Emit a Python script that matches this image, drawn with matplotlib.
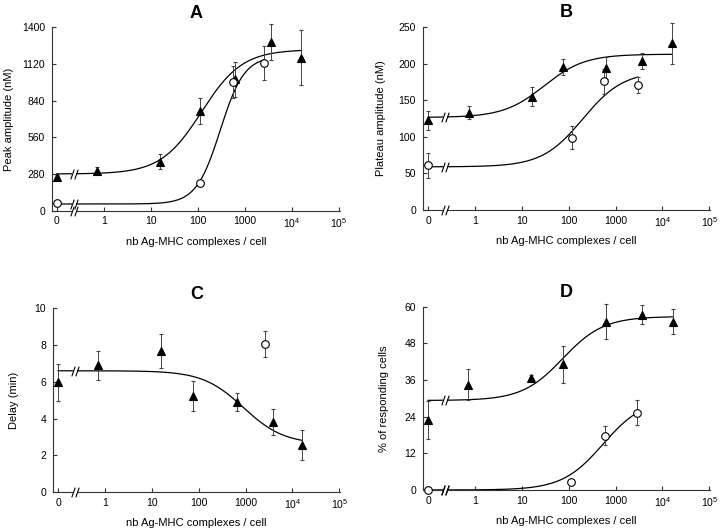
import numpy as np
import matplotlib.pyplot as plt
from matplotlib.path import Path

plt.rcParams['font.family'] = ['Liberation Sans', 'DejaVu Sans']
plt.rcParams['mathtext.fontset'] = 'custom'
plt.rcParams['mathtext.rm'] = 'Liberation Sans'

# where "0" sits on the log axis, and the two slashes of the axis break
ZERO = 0.1
BREAK = [0.21, 0.25]

x_ticks = [ZERO, 1, 10, 100, 1000, 1e4, 1e5]
x_ticklabels = ['0', '1', '10', '100', '1000', r'$10^4$', r'$10^5$']
x_label = 'nb Ag-MHC complexes / cell'

# Panel A - peak amplitude
a_tri_x = [0, 0.72, 16, 110, 630, 3650, 16000]
a_tri_y = [255, 305, 374, 761, 1003, 1288, 1168]
a_tri_err = [20, 28, 58, 102, 132, 137, 210]
a_circ_x = [0, 110, 560, 2500]
a_circ_y = [61, 214, 985, 1125]
a_circ_err = [0, 0, 123, 131]
a_fit_tri = [280, 1230, 120, 1.0]     # start, end, ec50, hill
a_fit_circ = [51, 1180, 300, 1.7]
a_yticks = [0, 280, 560, 840, 1120, 1400]

# Panel B - plateau amplitude
b_tri_x = [0, 0.74, 16.6, 77, 640, 3600, 16000]
b_tri_y = [123, 133, 155, 195, 194, 204, 228]
b_tri_err = [13, 9, 13, 11, 15, 11, 28]
b_circ_x = [0, 115, 575, 2960]
b_circ_y = [61, 99, 176, 171]
b_circ_err = [17, 16, 17, 11]
b_fit_tri = [126.5, 213, 30, 1.0]
b_fit_circ = [59, 190, 200, 1.0]
b_yticks = [0, 50, 100, 150, 200, 250]

# Panel C - delay
c_tri_x = [0, 0.72, 16, 76, 660, 3800, 16000]
c_tri_y = [5.97, 6.9, 7.68, 5.22, 4.91, 3.82, 2.55]
c_tri_err = [1.0, 0.8, 0.91, 0.81, 0.5, 0.71, 0.83]
c_circ_x = [2600]
c_circ_y = [8.05]
c_circ_err = [0.7]
c_fit_tri = [6.6, 2.6, 900, 1.0]
c_yticks = [0, 2, 4, 6, 8, 10]

# Panel D - % responding cells
d_tri_x = [0, 0.70, 16, 75, 630, 3650, 16500]
d_tri_y = [22.9, 34.4, 36.8, 41.1, 55.1, 57.3, 55.1]
d_tri_err = [6.1, 5.1, 0.9, 6.0, 5.8, 3.1, 4.1]
d_circ_x = [0, 112, 600, 2900]
d_circ_y = [0, 2.5, 17.7, 25.3]
d_circ_err = [0, 0, 3.1, 4.0]
d_fit_tri = [29.3, 56.8, 75, 1.0]
d_fit_circ = [0, 30, 540, 1.0]
d_yticks = [0, 12, 24, 36, 48, 60]

slash = Path([(-0.35, -1), (0.35, 1)], [Path.MOVETO, Path.LINETO])


def to_log(x):
    x = np.asarray(x, dtype=float)
    return np.where(x == 0, ZERO, x)


def hill(x, start, end, ec50, n):
    r = (x / ec50) ** n
    return start + (end - start) * r / (1 + r)


def draw_break(ax, y, axis=False):
    tr = ax.get_xaxis_transform() if axis else ax.transData
    ax.plot(BREAK, [y, y], color='white', lw=3, solid_capstyle='butt',
            transform=tr, clip_on=False, zorder=5)
    ax.plot(BREAK, [y, y], ls='none', marker=slash, ms=7, mec='black',
            mew=0.8, transform=tr, clip_on=False, zorder=6)


def panel(ax, letter, ylabel, label_x, yticks, tri, circ, fits):
    for (xs, ys, es), style in ((tri, dict(marker='^', mfc='black')),
                                (circ, dict(marker='o', mfc='white'))):
        if not xs:
            continue
        ax.errorbar(to_log(xs), ys, yerr=es, ls='none', mec='black', ms=5.5,
                    mew=0.8, ecolor='#444444', elinewidth=0.7, capsize=1.5,
                    clip_on=False, zorder=4, **style)
    for xmax, params in fits:
        xx = np.logspace(np.log10(ZERO), np.log10(xmax), 300)
        ax.plot(xx, hill(xx, *params), color='black', lw=0.9, zorder=3)
        draw_break(ax, params[0])
    draw_break(ax, 0, axis=True)

    ax.set_xscale('log')
    ax.set_xlim(0.078, 1.05e5)
    ax.set_xticks(x_ticks)
    ax.set_xticklabels(x_ticklabels)
    ax.minorticks_off()
    ax.set_ylim(yticks[0], yticks[-1])
    ax.set_yticks(yticks)
    for side in ('top', 'right'):
        ax.spines[side].set_visible(False)
    for side in ('left', 'bottom'):
        ax.spines[side].set_linewidth(0.8)
        ax.spines[side].set_color('#333333')
    ax.tick_params(direction='in', length=3, width=0.8, color='#333333',
                   labelsize=7.5)
    ax.tick_params(axis='x', pad=4)
    ax.tick_params(axis='y', pad=5)
    ax.set_xlabel(x_label, fontsize=8, labelpad=5)
    ax.set_ylabel(ylabel, fontsize=8)
    ax.yaxis.set_label_coords(label_x, 0.5)
    ax.set_title(letter, fontsize=13, fontweight='bold', pad=7)


fig = plt.figure(figsize=(7.2, 5.3), dpi=100)
axA = fig.add_axes([0.072, 0.6025, 0.400, 0.346])
axB = fig.add_axes([0.5875, 0.6038, 0.399, 0.345])
axC = fig.add_axes([0.0736, 0.0717, 0.399, 0.3466])
axD = fig.add_axes([0.5875, 0.0755, 0.399, 0.3458])

panel(axA, 'A', 'Peak amplitude (nM)', -0.13, a_yticks,
      (a_tri_x, a_tri_y, a_tri_err), (a_circ_x, a_circ_y, a_circ_err),
      [(a_tri_x[-1], a_fit_tri), (a_circ_x[-1], a_fit_circ)])
panel(axB, 'B', 'Plateau amplitude (nM)', -0.13, b_yticks,
      (b_tri_x, b_tri_y, b_tri_err), (b_circ_x, b_circ_y, b_circ_err),
      [(b_tri_x[-1], b_fit_tri), (b_circ_x[-1], b_fit_circ)])
panel(axC, 'C', 'Delay (min)', -0.12, c_yticks,
      (c_tri_x, c_tri_y, c_tri_err), (c_circ_x, c_circ_y, c_circ_err),
      [(c_tri_x[-1], c_fit_tri)])
panel(axD, 'D', '% of responding cells', -0.12, d_yticks,
      (d_tri_x, d_tri_y, d_tri_err), (d_circ_x, d_circ_y, d_circ_err),
      [(d_tri_x[-1], d_fit_tri), (d_circ_x[-1], d_fit_circ)])

fig.savefig('out.png', dpi=100)
